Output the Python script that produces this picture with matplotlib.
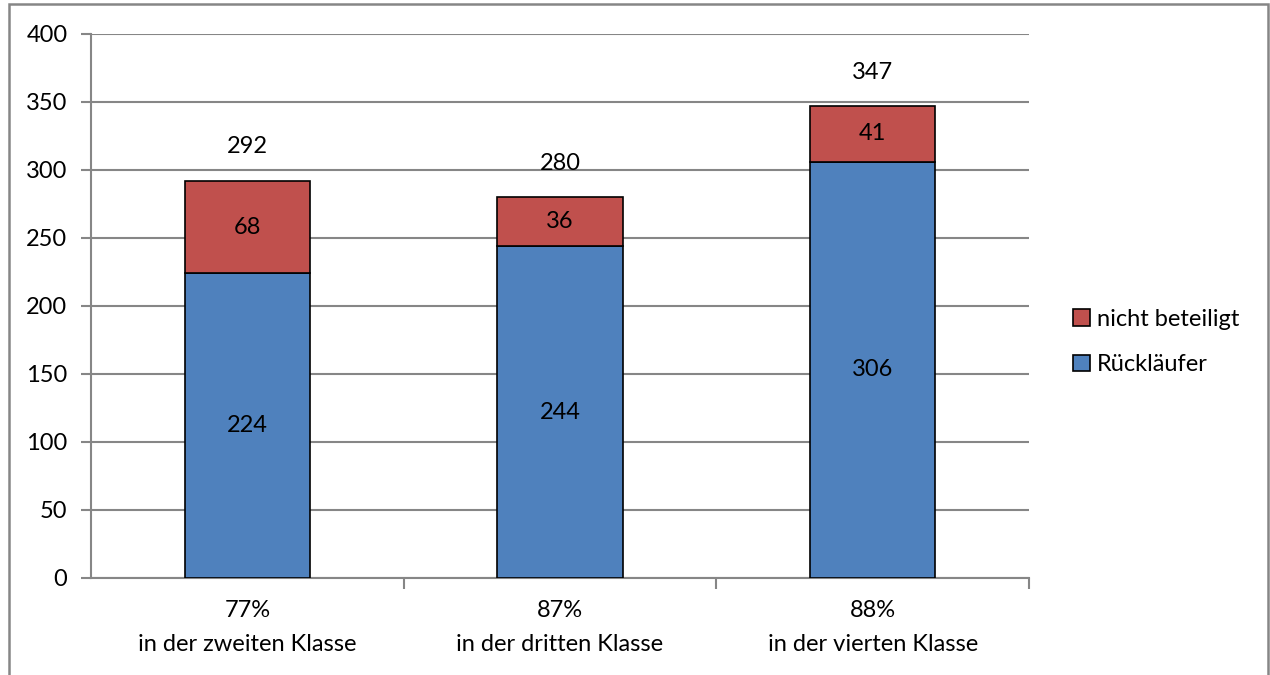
import matplotlib.pyplot as plt
from matplotlib.patches import Rectangle
import numpy as np

# Daten
klassen = ['77%\nin der zweiten Klasse', '87%\nin der dritten Klasse', '88%\nin der vierten Klasse']
ruecklaeufer = [224, 244, 306]
nicht_beteiligt = [68, 36, 41]
gesamt = [292, 280, 347]

blau = '#4F81BD'
rot = '#C0504D'
grau = '#868686'

plt.rcParams['font.family'] = ['Lato', 'DejaVu Sans']
plt.rcParams['font.size'] = 17

fig = plt.figure(figsize=(12.7, 6.75), dpi=100)
ax = fig.add_axes([91 / 1270, 1 - 578 / 675, (1029 - 91) / 1270, (578 - 34) / 675])

x = np.arange(len(klassen))
b1 = ax.bar(x, ruecklaeufer, width=0.4, color=blau, edgecolor='black', linewidth=1.2,
            label='Rückläufer', zorder=3)
b2 = ax.bar(x, nicht_beteiligt, bottom=ruecklaeufer, width=0.4, color=rot, edgecolor='black',
            linewidth=1.2, label='nicht beteiligt', zorder=3)

# Beschriftungen der Segmente und Summen
for i in range(len(x)):
    ax.text(x[i], ruecklaeufer[i] / 2, str(ruecklaeufer[i]), ha='center', va='center', zorder=4)
    ax.text(x[i], ruecklaeufer[i] + nicht_beteiligt[i] / 2, str(nicht_beteiligt[i]),
            ha='center', va='center', zorder=4)
    ax.text(x[i], gesamt[i] + 25, str(gesamt[i]), ha='center', va='center', zorder=4)

ax.set_xlim(-0.5, 2.5)
ax.set_ylim(0, 400)
ax.set_yticks(range(0, 401, 50))
ax.yaxis.grid(True, color=grau, linewidth=1.5, zorder=0)

ax.set_xticks(x)
ax.set_xticklabels(klassen, linespacing=1.75)
ax.set_xticks([0.5, 1.5, 2.5], minor=True)
ax.tick_params(axis='x', which='major', length=0, pad=16)
ax.tick_params(axis='x', which='minor', length=8, width=1.5, color=grau)
ax.tick_params(axis='y', length=7, width=1.5, color=grau, pad=10)

for s in ['top', 'right']:
    ax.spines[s].set_visible(False)
for s in ['left', 'bottom']:
    ax.spines[s].set_color(grau)
    ax.spines[s].set_linewidth(1.5)

handles = [b2, b1]
leg = fig.legend(handles, ['nicht beteiligt', 'Rückläufer'], loc='center left',
                 bbox_to_anchor=(1052 / 1270, 1 - 342 / 675), frameon=False,
                 handlelength=0.7, handleheight=0.7, handletextpad=0.3,
                 labelspacing=1.05, fontsize=17)

# Rahmen um das Diagramm
fig.patches.append(Rectangle((9 / 1270, -0.1), (1268 - 9) / 1270, 1.1 - 4.5 / 675,
                             transform=fig.transFigure, fill=False, edgecolor=grau,
                             linewidth=1.8))

fig.savefig('out.png', dpi=100)
